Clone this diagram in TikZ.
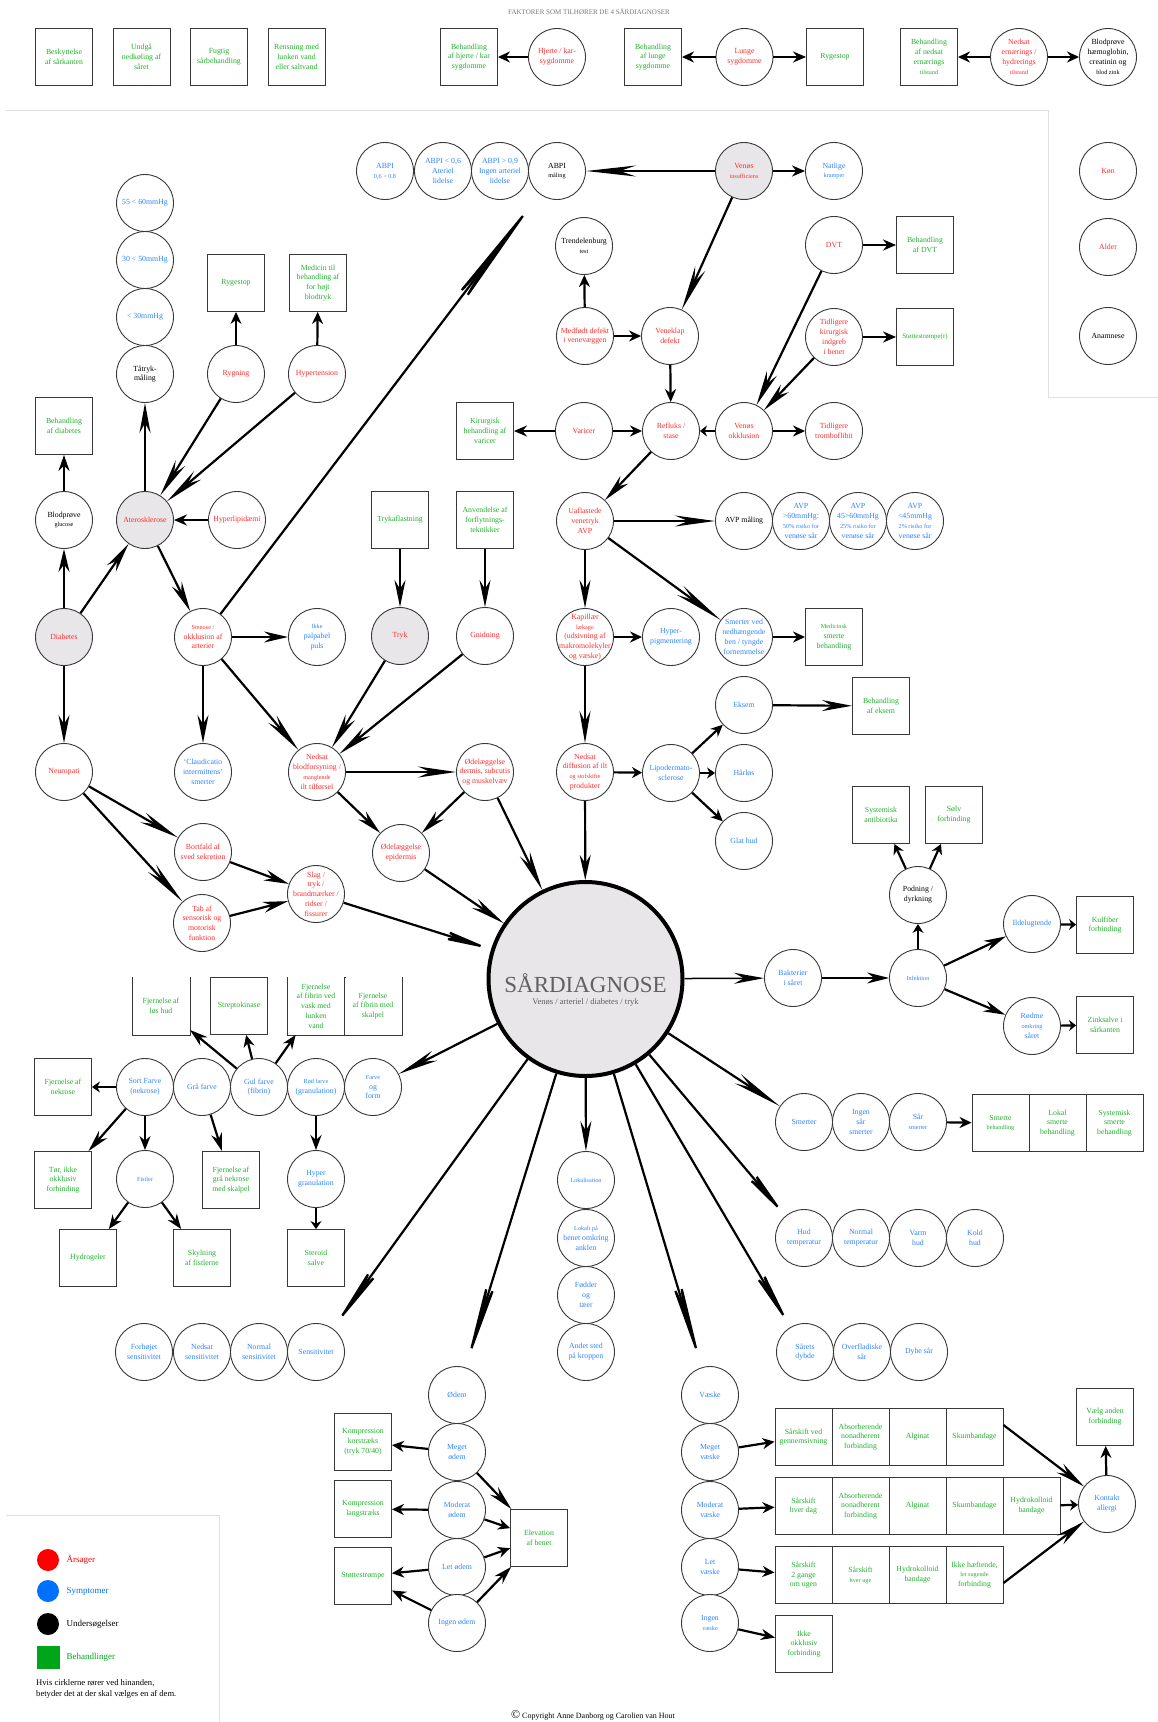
\documentclass[tikz,border=0pt]{standalone}
\usepackage{fontspec}
\setmainfont{Liberation Serif}
\usetikzlibrary{arrows.meta}
\definecolor{cRed}{HTML}{FF2E2E}
\definecolor{cBlue}{HTML}{2E84FF}
\definecolor{cGreen}{HTML}{22B02E}
\definecolor{cFill}{HTML}{E8E6E8}
\definecolor{cRule}{HTML}{E0E0E0}
\definecolor{cHead}{HTML}{7A7A7A}
\definecolor{legRed}{HTML}{FF0000}
\definecolor{legBlue}{HTML}{0070FF}
\definecolor{legGreen}{HTML}{00A61A}
\newcommand\fsz{\fontsize{7.8}{9.8}\selectfont}
\newcommand\smtxt{\fontsize{6.2}{7.6}\selectfont}
% circle, grey circle, box and open-top box, each with a centred label
\newcommand\mkC[4]{\node[cir] (#1) at (#2) {};\node[lbl,text=#3] at (#1) {#4};}
\newcommand\mkCg[4]{\node[cir,fill=cFill] (#1) at (#2) {};\node[lbl,text=#3] at (#1) {#4};}
\newcommand\mkB[4]{\node[bx] (#1) at (#2) {};\node[lbl,text=#3] at (#1) {#4};}
\newcommand\mkBo[4]{\node[bx,draw=none] (#1) at (#2) {};\draw[bxline] (#1.north west) -- (#1.south west) -- (#1.south east) -- (#1.north east);\node[lbl,text=#3] at (#1) {#4};}
\begin{document}
\begin{tikzpicture}[x=1pt,y=-1pt,
  cir/.style={circle,draw=black!78,fill=white,line width=0.9pt,minimum size=57pt,inner sep=0pt},
  bx/.style={rectangle,draw=black!78,fill=white,line width=0.9pt,minimum size=57pt,inner sep=0pt},
  bxline/.style={draw=black!78,line width=0.9pt},
  lbl/.style={align=center,inner sep=0pt,font=\fsz},
  ln/.style={line width=2.2pt,black},
  hd/.style={-{Stealth[length=#1,width=11pt]}}]
\useasboundingbox (0,0) rectangle (1158,1722);
\fill[white] (0,0) rectangle (1158,1722);

% frame rules
\draw[cRule,line width=1pt] (6,110) -- (1048,110) -- (1048,397) -- (1158,397);
\draw[cRule,line width=1pt] (6,1515) -- (219,1515) -- (219,1722);

\node[font=\fontsize{7}{8}\selectfont,text=cHead] (hdr) at (589,12) {FAKTORER SOM TILHØRER DE 4 SÅRDIAGNOSER};

% ---- top row: general factors
\mkB{tb1}{64,57}{cGreen}{Beskyttelse\\af sårkanten}
\mkB{tb2}{141.5,57}{cGreen}{Undgå\\nedkøling af\\såret}
\mkB{tb3}{219,57}{cGreen}{Fugtig\\sårbehandling}
\mkB{tb4}{296.5,57}{cGreen}{Rensning med\\lunken vand\\eller saltvand}
\mkB{behhj}{469,57}{cGreen}{Behandling\\af hjerte / kar\\sygdomme}
\mkC{hjerte}{557,57}{cRed}{Hjerte / kar-\\sygdomme}
\mkB{behlu}{653,57}{cGreen}{Behandling\\af lunge\\sygdomme}
\mkC{lunge}{744.5,57}{cRed}{Lunge\\sygdomme}
\mkB{rygtop}{835,57}{cGreen}{Rygestop}
\mkB{beher}{929,57}{cGreen}{Behandling\\af nedsat\\ernærings\\{\smtxt tilstand}}
\mkC{ernaer}{1019,57}{cRed}{Nedsat\\ernærings /\\hydrerings\\{\smtxt tilstand}}
\mkC{blodzink}{1108,57}{black}{Blodprøve\\hæmoglobin,\\creatinin og\\{\smtxt blod zink}}

\mkC{kon}{1108,171}{cRed}{Køn}
\mkC{alder}{1108,247}{cRed}{Alder}
\mkC{anam}{1108,336}{black}{Anamnese}

% ---- arterial / diabetes branch
\mkC{p55}{145,203}{cBlue}{55 < 60mmHg}
\mkC{p30}{145,260}{cBlue}{30 < 50mmHg}
\mkC{plt}{145,317}{cBlue}{< 30mmHg}
\mkC{tatryk}{145,374}{black}{Tåtryk-\\måling}
\mkB{rygestop}{236,283}{cGreen}{Rygestop}
\mkB{medicin}{318,283}{cGreen}{Medicin til\\behandling af\\for højt\\blodtryk}
\mkC{rygning}{236,374}{cRed}{Rygning}
\mkC{hypert}{317,374}{cRed}{Hypertension}
\mkB{behdiab}{64,426}{cGreen}{Behandling\\af diabetes}
\mkC{blodglu}{64,520}{black}{Blodprøve\\{\smtxt glucose}}
\mkCg{ater}{145,520}{cRed}{Aterosklerose}
\mkC{hyperlip}{237,520}{cRed}{Hyperlipidæmi}
\mkCg{diab}{64,637}{cRed}{Diabetes}
\mkC{stenose}{203,637}{cRed}{{\smtxt Stenose /}\\okklusion af\\arterier}
\mkC{ikkepalp}{317,637}{cBlue}{{\smtxt Ikke}\\palpabel\\puls}
\mkB{trykafl}{400,520}{cGreen}{Trykaflastning}
\mkB{anvend}{485,520}{cGreen}{Anvendelse af\\forflytnings-\\teknikker}
\mkCg{tryk}{400,636}{cRed}{Tryk}
\mkC{gnid}{485,636}{cRed}{Gnidning}
\mkC{neuro}{64,772}{cRed}{Neuropati}
\mkC{claud}{203,772}{cBlue}{‘Claudicatio\\intermittens’\\smerter}
\mkC{nedblod}{317,772}{cRed}{Nedsat\\blodforsyning /\\{\smtxt manglende}\\ilt tilførsel}
\mkC{oddermis}{485,772}{cRed}{Ødelæggelse\\dermis, subcutis\\og muskelvæv}
\mkC{bortfald}{203,852}{cRed}{Bortfald af\\sved sekretion}
\mkC{odepi}{401,853}{cRed}{Ødelæggelse\\epidermis}
\mkC{tabaf}{202,923}{cRed}{Tab af\\sensorisk og\\motorisk\\funktion}
\mkC{slag}{316,894}{cRed}{Slag /\\tryk /\\brandmærker /\\ridser /\\fissurer}

% ---- ABPI row and venous branch
\mkC{abpi1}{385,171}{cBlue}{ABPI\\{\smtxt 0,6 > 0,8}}
\mkC{abpi2}{443,171}{cBlue}{ABPI < 0,6\\Ateriel\\lidelse}
\mkC{abpi3}{500,171}{cBlue}{ABPI > 0,9\\Ingen arteriel\\lidelse}
\mkC{abpim}{557,171}{black}{ABPI\\{\smtxt måling}}
\mkCg{venins}{744,171}{cRed}{Venøs\\{\smtxt insufficiens}}
\mkC{natlige}{834,171}{cBlue}{Natlige\\{\smtxt kramper}}
\mkC{trend}{584,246}{black}{Trendelenburg\\{\smtxt test}}
\mkC{dvt}{834,245}{cRed}{DVT}
\mkB{behdvt}{925,245}{cGreen}{Behandling\\af DVT}
\mkC{medfodt}{585,336}{cRed}{Medfødt defekt\\i venevæggen}
\mkC{veneklap}{670,336}{cRed}{Veneklap\\defekt}
\mkC{tidkir}{834,337}{cRed}{Tidligere\\kirurgisk\\indgreb\\i benet}
\mkB{stotte1}{925,337}{cGreen}{{\fontsize{6.9}{8}\selectfont Støttestrømpe(r)}}
\mkB{kirbeh}{485,431}{cGreen}{Kirurgisk\\behandling af\\varicer}
\mkC{varicer}{584,431}{cRed}{Varicer}
\mkC{refluks}{671,431}{cRed}{Refluks /\\stase}
\mkC{venokk}{744,431}{cRed}{Venøs\\okklusion}
\mkC{tromb}{834,431}{cRed}{Tidligere\\tromboflibit}
\mkC{uafl}{585,521}{cRed}{Uaflastede\\venetryk\\AVP}
\mkC{avpm}{744,521}{black}{AVP måling}
\mkC{avp1}{801,521}{cBlue}{AVP\\>60mmHg:\\{\smtxt 50\% risiko for}\\venøse sår}
\mkC{avp2}{858,521}{cBlue}{AVP\\45>60mmHg\\{\smtxt 25\% risiko for}\\venøse sår}
\mkC{avp3}{915,521}{cBlue}{AVP\\<45mmHg\\{\smtxt 2\% risiko for}\\venøse sår}
\mkC{kapil}{585,637}{cRed}{Kapillær\\{\smtxt lækage}\\(udsivning af\\makromolekyler\\og væske)}
\mkC{hyperpig}{671,637}{cBlue}{Hyper-\\pigmentering}
\mkC{smved}{744,637}{cBlue}{Smerter ved\\nedhængende\\ben / tyngde\\fornemmelse}
\mkB{medsm}{834,637}{cGreen}{{\smtxt Medicinsk}\\smerte\\behandling}
\mkC{eksem}{744,705}{cBlue}{Eksem}
\mkB{beheksem}{881,706}{cGreen}{Behandling\\af eksem}
\mkC{neddiff}{585,772}{cRed}{Nedsat\\diffusion af ilt\\{\smtxt og stofskifte}\\produkter}
\mkC{lipo}{671,773}{cBlue}{Lipodermato-\\sclerose}
\mkC{harlos}{744,773}{cBlue}{Hårløs}
\mkC{glat}{744,841}{cBlue}{Glat hud}

% ---- infection
\mkB{sysanti}{881,815}{cGreen}{Systemisk\\antibiotika}
\mkB{solv}{954,815}{cGreen}{Sølv\\forbinding}
\mkC{podning}{918,895}{black}{Podning /\\dyrkning}
\mkC{ilde}{1032,924}{cBlue}{Ildelugtende}
\mkB{kulfib}{1105,925}{cGreen}{Kulfiber\\forbinding}
\mkC{bakt}{793,978}{cBlue}{Bakterier\\i såret}
\mkC{infek}{918,978}{cBlue}{{\smtxt Infektion}}
\mkC{rodme}{1032,1026}{cBlue}{Rødme\\{\smtxt omkring}\\såret}
\mkB{zink}{1105,1025}{cGreen}{Zinksalve i\\sårkanten}

% ---- pain, skin temperature, depth
\mkC{smerter}{804,1122}{cBlue}{Smerter}
\mkC{ingensm}{861,1122}{cBlue}{Ingen\\sår\\smerter}
\mkC{sarsm}{918,1122}{cBlue}{Sår\\{\smtxt smerter}}
\mkB{sba}{1000.5,1123}{cGreen}{Smerte\\{\smtxt behandling}}
\mkB{sbb}{1057.5,1123}{cGreen}{Lokal\\smerte\\behandling}
\mkB{sbc}{1114.5,1123}{cGreen}{Systemisk\\smerte\\behandling}
\mkC{hudt}{804,1238}{cBlue}{Hud\\temperatur}
\mkC{normt}{861,1238}{cBlue}{Normal\\temperatur}
\mkC{varm}{918,1238}{cBlue}{Varm\\hud}
\mkC{kold}{975,1238}{cBlue}{Kold\\hud}
\mkC{sardybde}{805,1352}{cBlue}{Sårets\\dybde}
\mkC{overfl}{862,1352}{cBlue}{Overfladiske\\sår}
\mkC{dybe}{919,1352}{cBlue}{Dybe sår}

% ---- wound colour
\mkBo{fjlos}{161,1006}{cGreen}{Fjernelse af\\løs hud}
\mkB{strep}{239,1006}{cGreen}{Streptokinase}
\mkBo{fjvask}{316,1006}{cGreen}{Fjernelse\\af fibrin ved\\vask med\\lunken\\vand}
\mkBo{fjskal}{373,1006}{cGreen}{Fjernelse\\af fibrin med\\skalpel}
\mkB{fjnek}{63,1087}{cGreen}{Fjernelse af\\nekrose}
\mkC{sort}{145,1087}{cBlue}{Sort Farve\\(nekrose)}
\mkC{gra}{202,1087}{cBlue}{Grå farve}
\mkC{gul}{259,1087}{cBlue}{Gul farve\\(fibrin)}
\mkC{rod}{316,1087}{cBlue}{{\smtxt Rød farve}\\(granulation)}
\mkC{farve}{373,1087}{cBlue}{{\smtxt Farve}\\og\\form}
\mkB{tor}{63,1180}{cGreen}{Tør, ikke\\okklusiv\\forbinding}
\mkC{fistler}{145,1179}{cBlue}{{\smtxt Fistler}}
\mkB{fjgra}{231,1180}{cGreen}{Fjernelse af\\grå nekrose\\med skalpel}
\mkC{hypgran}{316,1179}{cBlue}{Hyper\\granulation}
\mkB{hydrog}{88,1258}{cGreen}{Hydrogeler}
\mkB{skyl}{202,1258}{cGreen}{Skylning\\af fistlerne}
\mkB{steroid}{316,1258}{cGreen}{Steroid\\salve}

% ---- sensitivity
\mkC{forh}{144,1352}{cBlue}{Forhøjet\\sensitivitet}
\mkC{nedsens}{202,1352}{cBlue}{Nedsat\\sensitivitet}
\mkC{normsens}{259,1352}{cBlue}{Normal\\sensitivitet}
\mkC{sens}{316,1352}{cBlue}{Sensitivitet}

% ---- location
\mkC{lokal}{586,1180}{cBlue}{{\smtxt Lokalisation}}
\mkC{lokben}{586,1238}{cBlue}{{\smtxt Lokalt på}\\benet omkring\\anklen}
\mkC{fodder}{586,1295}{cBlue}{Fødder\\og\\tæer}
\mkC{andet}{586,1352}{cBlue}{Andet sted\\på kroppen}

% ---- oedema
\mkC{odem}{457,1395}{cBlue}{Ødem}
\mkC{mego}{457,1452}{cBlue}{Meget\\ødem}
\mkC{modo}{457,1510}{cBlue}{Moderat\\ødem}
\mkC{leto}{457,1567}{cBlue}{Let ødem}
\mkC{ingo}{457,1623}{cBlue}{Ingen ødem}
\mkB{komp1}{363,1442}{cGreen}{Kompression\\korstræks\\(tryk 70/40)}
\mkB{komp2}{363,1509}{cGreen}{Kompression\\langstræks}
\mkB{stotte2}{363,1576}{cGreen}{Støttestrømpe}
\mkB{elev}{539,1538}{cGreen}{Elevation\\af benet}

% ---- exudate
\mkC{vaeske}{710,1395}{cBlue}{Væske}
\mkC{megv}{710,1452}{cBlue}{Meget\\væske}
\mkC{modv}{710,1510}{cBlue}{Moderat\\væske}
\mkC{letv}{710,1567}{cBlue}{Let\\væske}
\mkC{ingv}{710,1623}{cBlue}{Ingen\\{\smtxt væske}}
\mkB{ra}{803.5,1437}{cGreen}{Sårskift ved\\gennemsivning}
\mkB{rb}{860.5,1437}{cGreen}{Absorberende\\nonadherent\\forbinding}
\mkB{rc}{917.5,1437}{cGreen}{Alginat}
\mkB{rd}{974.5,1437}{cGreen}{Skumbandage}
\mkB{sa}{803.5,1506}{cGreen}{Sårskift\\hver dag}
\mkB{sb}{860.5,1506}{cGreen}{Absorberende\\nonadherent\\forbinding}
\mkB{sc}{917.5,1506}{cGreen}{Alginat}
\mkB{sdd}{974.5,1506}{cGreen}{Skumbandage}
\mkB{se}{1031.5,1506}{cGreen}{Hydrokolloid\\bandage}
\mkB{ta}{803.5,1575}{cGreen}{Sårskift\\2 gange\\om ugen}
\mkB{tbb}{860.5,1575}{cGreen}{Sårskift\\{\smtxt hver uge}}
\mkB{tc}{917.5,1575}{cGreen}{Hydrokolloid\\bandage}
\mkB{td}{974.5,1575}{cGreen}{Ikke hæftende,\\{\smtxt let sugende}\\forbinding}
\mkB{ikkeokk}{804,1644}{cGreen}{Ikke\\okklusiv\\forbinding}
\mkC{kontakt}{1107,1504}{cBlue}{Kontakt\\allergi}
\mkB{valg}{1105,1417}{cGreen}{Vælg anden\\forbinding}

% ---- central node
\node[circle,draw=black,line width=4pt,fill=cFill,minimum size=194pt,inner sep=0pt] (sd) at (585.5,979) {};
\node[anchor=base,text=black!62,font=\fontsize{23}{26}\selectfont,inner sep=0pt] (sdt) at (585.5,992) {SÅRDIAGNOSE};
\node[anchor=base,text=black!62,font=\fontsize{8.5}{10}\selectfont,inner sep=0pt] (sds) at (585.5,1004) {Venøs / arteriel / diabetes / tryk};

% ---- connectors: top row
\draw[ln,hd=12pt] (hjerte) -- (behhj);
\draw[ln,hd=12pt] (lunge) -- (behlu);
\draw[ln,hd=13pt] (lunge) -- (rygtop);
\draw[ln,hd=12pt] (ernaer) -- (beher);
\draw[ln,hd=12pt] (ernaer) -- (blodzink);

% ---- connectors: venous
\draw[ln,hd=50pt] (venins) -- (abpim);
\draw[ln,hd=13pt] (venins) -- (natlige);
\draw[ln,hd=45pt] (venins) -- (veneklap);
\draw[ln,hd=12pt] (medfodt) -- (trend);
\draw[ln,hd=12pt] (medfodt) -- (veneklap);
\draw[ln,hd=13pt] (veneklap) -- (refluks);
\draw[ln,hd=13pt] (varicer) -- (kirbeh);
\draw[ln,hd=12pt] (varicer) -- (refluks);
\draw[ln,hd=7pt] (venokk) -- (refluks);
\draw[ln,hd=12pt] (venokk) -- (tromb);
\draw[ln,hd=13pt] (dvt) -- (behdvt);
\draw[ln,hd=35pt] (dvt) -- (venokk);
\draw[ln,hd=13pt] (tidkir) -- (stotte1);
\draw[ln,hd=30pt] (tidkir) -- (venokk);
\draw[ln,hd=28pt] (refluks) -- (uafl);
\draw[ln,hd=40pt] (uafl) -- (avpm);
\draw[ln,hd=28pt] (uafl) -- (kapil);
\draw[ln,hd=50pt] (uafl) -- (smved);
\draw[ln,hd=12pt] (kapil) -- (hyperpig);
\draw[ln,hd=32pt] (kapil) -- (neddiff);
\draw[ln,hd=12pt] (smved) -- (medsm);
\draw[ln,hd=10pt] (neddiff) -- (lipo);
\draw[ln,hd=12pt] (lipo) -- (eksem);
\draw[ln,hd=8pt] (lipo) -- (harlos);
\draw[ln,hd=12pt] (lipo) -- (glat);
\draw[ln,hd=30pt] (eksem) -- (beheksem);
\draw[ln,hd=25pt] (neddiff) -- (sd);

% ---- connectors: arterial / diabetes / pressure
\draw[ln,hd=23pt] (diab) -- (blodglu);
\draw[ln,hd=16pt] (blodglu) -- (behdiab);
\draw[ln,hd=30pt] (diab) -- (ater);
\draw[ln,hd=28pt] (diab) -- (neuro);
\draw[ln,hd=30pt] (ater) -- (tatryk);
\draw[ln,hd=38pt] (rygning) -- (ater);
\draw[ln,hd=40pt] (hypert) -- (ater);
\draw[ln,hd=13pt] (hyperlip) -- (ater);
\draw[ln,hd=12pt] (rygning) -- (rygestop);
\draw[ln,hd=12pt] (hypert) -- (medicin);
\draw[ln,hd=30pt] (ater) -- (stenose);
\draw[ln,hd=24pt] (stenose) -- (ikkepalp);
\draw[ln,hd=28pt] (stenose) -- (claud);
\draw[ln,hd=40pt] (stenose) -- (nedblod);
\draw[ln,-{Stealth[length=150pt,width=12pt]}] (stenose) -- (abpim);
\draw[ln,hd=27pt] (trykafl) -- (tryk);
\draw[ln,hd=27pt] (anvend) -- (gnid);
\draw[ln,hd=35pt] (tryk) -- (nedblod);
\draw[ln,hd=35pt] (gnid) -- (nedblod);
\draw[ln,hd=38pt] (nedblod) -- (oddermis);
\draw[ln,hd=25pt] (nedblod) -- (odepi);
\draw[ln,hd=25pt] (oddermis) -- (odepi);
\draw[ln,hd=40pt] (oddermis) -- (sd);
\draw[ln,hd=35pt] (odepi) -- (sd);
\draw[ln,hd=40pt] (neuro) -- (bortfald);
\draw[ln,hd=45pt] (neuro) -- (tabaf);
\draw[ln,hd=25pt] (bortfald) -- (slag);
\draw[ln,hd=25pt] (tabaf) -- (slag);
\draw[ln,hd=55pt] (slag) -- (sd);

% ---- connectors out of the central node
\draw[ln,line width=1.5pt,hd=30pt] (sd) -- (bakt);
\draw[ln,line width=1.3pt,hd=22pt] (bakt) -- (infek);
\draw[ln,hd=9pt] (infek) -- (podning);
\draw[ln,hd=10pt] (podning) -- (sysanti);
\draw[ln,hd=10pt] (podning) -- (solv);
\draw[ln,hd=22pt] (infek) -- (ilde);
\draw[ln,hd=22pt] (infek) -- (rodme);
\draw[ln,hd=7pt] (ilde) -- (kulfib);
\draw[ln,hd=7pt] (rodme) -- (zink);
\draw[ln,hd=50pt] (sd) -- (smerter);
\draw[ln,hd=12pt] (sarsm) -- (sba);
\draw[ln,hd=60pt] (sd) -- (hudt);
\draw[ln,hd=70pt] (sd) -- (sardybde);
\draw[ln,hd=100pt] (sd) -- (vaeske);
\draw[ln,hd=30pt] (sd) -- (lokal);
\draw[ln,hd=100pt] (sd) -- (odem);
\draw[ln,hd=80pt] (sd) -- (sens);
\draw[ln,hd=40pt] (sd) -- (farve);

% ---- connectors: wound colour
\draw[ln,hd=8pt] (sort) -- (fjnek);
\draw[ln,hd=22pt] (sort) -- (tor);
\draw[ln,hd=14pt] (sort) -- (fistler);
\draw[ln,hd=14pt] (fistler) -- (hydrog);
\draw[ln,hd=15pt] (fistler) -- (skyl);
\draw[ln,hd=18pt] (gra) -- (fjgra);
\draw[ln,hd=18pt] (gul) -- (fjlos);
\draw[ln,hd=12pt] (gul) -- (strep);
\draw[ln,hd=14pt] (gul) -- (fjvask);
\draw[ln,hd=15pt] (rod) -- (hypgran);
\draw[ln,hd=8pt] (hypgran) -- (steroid);

% ---- connectors: oedema
\draw[ln,hd=12pt] (mego) -- (komp1);
\draw[ln,hd=12pt] (modo) -- (komp2);
\draw[ln,hd=12pt] (leto) -- (stotte2);
\draw[ln,hd=14pt] (ingo) -- (stotte2);
\draw[ln,hd=25pt] (mego) -- (elev);
\draw[ln,hd=12pt] (modo) -- (elev);
\draw[ln,hd=12pt] (leto) -- (elev);
\draw[ln,hd=18pt] (ingo) -- (elev);

% ---- connectors: exudate
\draw[ln,hd=12pt] (megv) -- (ra);
\draw[ln,hd=12pt] (modv) -- (sa);
\draw[ln,hd=12pt] (letv) -- (ta);
\draw[ln,hd=14pt] (ingv) -- (ikkeokk);
\draw[ln,hd=30pt] ([yshift=12pt]rd.east) -- (kontakt);
\draw[ln,hd=8pt] (se) -- (kontakt);
\draw[ln,hd=30pt] ([yshift=-8pt]td.east) -- (kontakt);
\draw[ln,hd=12pt] (kontakt) -- (valg);

% ---- legend
\node[circle,fill=legRed,minimum size=22pt,inner sep=0pt] (lgr) at (48,1560) {};
\node[circle,fill=legBlue,minimum size=22pt,inner sep=0pt] (lgb) at (48,1591) {};
\node[circle,fill=black,minimum size=22pt,inner sep=0pt] (lgk) at (48,1624) {};
\node[rectangle,fill=legGreen,minimum size=23pt,inner sep=0pt] (lgg) at (48,1657) {};
\node[anchor=west,font=\fontsize{9}{11}\selectfont,text=legRed] (lgrt) at (63,1560) {Årsager};
\node[anchor=west,font=\fontsize{9}{11}\selectfont,text=legBlue] (lgbt) at (63,1591) {Symptomer};
\node[anchor=west,font=\fontsize{9}{11}\selectfont,text=black] (lgkt) at (63,1624) {Undersøgelser};
\node[anchor=west,font=\fontsize{9}{11}\selectfont,text=legGreen] (lggt) at (63,1657) {Behandlinger};
\node[anchor=north west,align=left,inner sep=0pt,font=\fontsize{8.6}{11.5}\selectfont] (lgnote) at (36,1679) {Hvis cirklerne rører ved hinanden,\\betyder det at der skal vælges en af dem.};

\node[font=\fontsize{8}{10}\selectfont] (copy) at (593,1715) {{\fontsize{12}{12}\selectfont\textcopyright}\ Copyright Anne Danborg og Carolien van Hout};
\end{tikzpicture}
\end{document}
